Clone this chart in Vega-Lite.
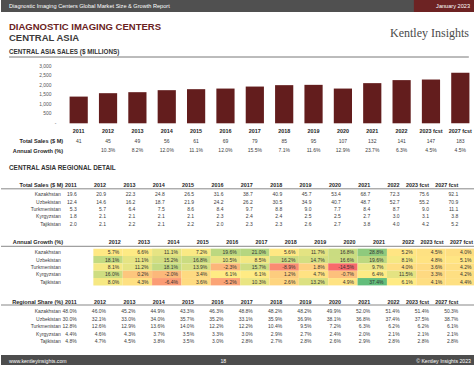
{
  "$schema": "https://vega.github.io/schema/vega-lite/v6.json",
  "padding": 0,
  "autosize": {"type": "pad"},
  "background": "white",
  "spacing": 0,
  "bounds": "flush",
  "config": {
    "font": "Liberation Sans",
    "view": {"stroke": null},
    "locale": {"number": {"decimal": ".", "thousands": ",", "grouping": [3], "currency": ["$", ""], "minus": "-"}}
  },
  "datasets": {
    "sales": [
      {"year": "2011", "chart_value": 1410, "total_sales_m": 41, "growth": null},
      {"year": "2012", "chart_value": 1590, "total_sales_m": 45, "growth": 0.103},
      {"year": "2013", "chart_value": 1643, "total_sales_m": 49, "growth": 0.082},
      {"year": "2014", "chart_value": 1749, "total_sales_m": 56, "growth": 0.120},
      {"year": "2015", "chart_value": 1802, "total_sales_m": 61, "growth": 0.111},
      {"year": "2016", "chart_value": 1834, "total_sales_m": 69, "growth": 0.120},
      {"year": "2017", "chart_value": 1940, "total_sales_m": 79, "growth": 0.155},
      {"year": "2018", "chart_value": 2014, "total_sales_m": 85, "growth": 0.071},
      {"year": "2019", "chart_value": 2030, "total_sales_m": 95, "growth": 0.116},
      {"year": "2020", "chart_value": 1834, "total_sales_m": 107, "growth": 0.129},
      {"year": "2021", "chart_value": 2120, "total_sales_m": 132, "growth": 0.237},
      {"year": "2022", "chart_value": 2280, "total_sales_m": 141, "growth": 0.063},
      {"year": "2023 fcst", "chart_value": 2311, "total_sales_m": 147, "growth": 0.045},
      {"year": "2027 fcst", "chart_value": 2666, "total_sales_m": 183, "growth": 0.045}
    ],
    "regional": [
      {"country": "Kazakhstan", "year": "2011", "sales": 19.6, "growth": null, "share": 0.480},
      {"country": "Kazakhstan", "year": "2012", "sales": 20.9, "growth": 0.057, "share": 0.460},
      {"country": "Kazakhstan", "year": "2013", "sales": 22.3, "growth": 0.066, "share": 0.452},
      {"country": "Kazakhstan", "year": "2014", "sales": 24.8, "growth": 0.111, "share": 0.449},
      {"country": "Kazakhstan", "year": "2015", "sales": 26.5, "growth": 0.072, "share": 0.433},
      {"country": "Kazakhstan", "year": "2016", "sales": 31.6, "growth": 0.196, "share": 0.463},
      {"country": "Kazakhstan", "year": "2017", "sales": 38.7, "growth": 0.210, "share": 0.488},
      {"country": "Kazakhstan", "year": "2018", "sales": 40.9, "growth": 0.056, "share": 0.482},
      {"country": "Kazakhstan", "year": "2019", "sales": 45.7, "growth": 0.117, "share": 0.482},
      {"country": "Kazakhstan", "year": "2020", "sales": 53.4, "growth": 0.168, "share": 0.499},
      {"country": "Kazakhstan", "year": "2021", "sales": 68.7, "growth": 0.288, "share": 0.520},
      {"country": "Kazakhstan", "year": "2022", "sales": 72.3, "growth": 0.052, "share": 0.514},
      {"country": "Kazakhstan", "year": "2023 fcst", "sales": 75.6, "growth": 0.045, "share": 0.514},
      {"country": "Kazakhstan", "year": "2027 fcst", "sales": 92.1, "growth": 0.040, "share": 0.503},
      {"country": "Uzbekistan", "year": "2011", "sales": 12.4, "growth": null, "share": 0.300},
      {"country": "Uzbekistan", "year": "2012", "sales": 14.6, "growth": 0.181, "share": 0.321},
      {"country": "Uzbekistan", "year": "2013", "sales": 16.2, "growth": 0.111, "share": 0.330},
      {"country": "Uzbekistan", "year": "2014", "sales": 18.7, "growth": 0.152, "share": 0.340},
      {"country": "Uzbekistan", "year": "2015", "sales": 21.9, "growth": 0.168, "share": 0.357},
      {"country": "Uzbekistan", "year": "2016", "sales": 24.2, "growth": 0.105, "share": 0.352},
      {"country": "Uzbekistan", "year": "2017", "sales": 26.2, "growth": 0.085, "share": 0.331},
      {"country": "Uzbekistan", "year": "2018", "sales": 30.5, "growth": 0.162, "share": 0.359},
      {"country": "Uzbekistan", "year": "2019", "sales": 34.9, "growth": 0.147, "share": 0.369},
      {"country": "Uzbekistan", "year": "2020", "sales": 40.7, "growth": 0.166, "share": 0.381},
      {"country": "Uzbekistan", "year": "2021", "sales": 48.7, "growth": 0.196, "share": 0.368},
      {"country": "Uzbekistan", "year": "2022", "sales": 52.7, "growth": 0.081, "share": 0.374},
      {"country": "Uzbekistan", "year": "2023 fcst", "sales": 55.2, "growth": 0.048, "share": 0.375},
      {"country": "Uzbekistan", "year": "2027 fcst", "sales": 70.9, "growth": 0.051, "share": 0.387},
      {"country": "Turkmenistan", "year": "2011", "sales": 5.3, "growth": null, "share": 0.128},
      {"country": "Turkmenistan", "year": "2012", "sales": 5.7, "growth": 0.081, "share": 0.126},
      {"country": "Turkmenistan", "year": "2013", "sales": 6.4, "growth": 0.112, "share": 0.129},
      {"country": "Turkmenistan", "year": "2014", "sales": 7.5, "growth": 0.181, "share": 0.136},
      {"country": "Turkmenistan", "year": "2015", "sales": 8.6, "growth": 0.139, "share": 0.140},
      {"country": "Turkmenistan", "year": "2016", "sales": 8.4, "growth": -0.023, "share": 0.122},
      {"country": "Turkmenistan", "year": "2017", "sales": 9.7, "growth": 0.157, "share": 0.122},
      {"country": "Turkmenistan", "year": "2018", "sales": 8.8, "growth": -0.089, "share": 0.104},
      {"country": "Turkmenistan", "year": "2019", "sales": 9.0, "growth": 0.018, "share": 0.095},
      {"country": "Turkmenistan", "year": "2020", "sales": 7.7, "growth": -0.145, "share": 0.072},
      {"country": "Turkmenistan", "year": "2021", "sales": 8.4, "growth": 0.097, "share": 0.063},
      {"country": "Turkmenistan", "year": "2022", "sales": 8.7, "growth": 0.040, "share": 0.062},
      {"country": "Turkmenistan", "year": "2023 fcst", "sales": 9.0, "growth": 0.036, "share": 0.062},
      {"country": "Turkmenistan", "year": "2027 fcst", "sales": 11.1, "growth": 0.042, "share": 0.061},
      {"country": "Kyrgyzstan", "year": "2011", "sales": 1.8, "growth": null, "share": 0.044},
      {"country": "Kyrgyzstan", "year": "2012", "sales": 2.1, "growth": 0.160, "share": 0.046},
      {"country": "Kyrgyzstan", "year": "2013", "sales": 2.1, "growth": 0.002, "share": 0.043},
      {"country": "Kyrgyzstan", "year": "2014", "sales": 2.1, "growth": -0.020, "share": 0.037},
      {"country": "Kyrgyzstan", "year": "2015", "sales": 2.1, "growth": 0.034, "share": 0.035},
      {"country": "Kyrgyzstan", "year": "2016", "sales": 2.3, "growth": 0.061, "share": 0.033},
      {"country": "Kyrgyzstan", "year": "2017", "sales": 2.4, "growth": 0.061, "share": 0.030},
      {"country": "Kyrgyzstan", "year": "2018", "sales": 2.4, "growth": 0.012, "share": 0.029},
      {"country": "Kyrgyzstan", "year": "2019", "sales": 2.5, "growth": 0.047, "share": 0.027},
      {"country": "Kyrgyzstan", "year": "2020", "sales": 2.5, "growth": -0.007, "share": 0.024},
      {"country": "Kyrgyzstan", "year": "2021", "sales": 2.7, "growth": 0.064, "share": 0.020},
      {"country": "Kyrgyzstan", "year": "2022", "sales": 3.0, "growth": 0.115, "share": 0.021},
      {"country": "Kyrgyzstan", "year": "2023 fcst", "sales": 3.1, "growth": 0.033, "share": 0.021},
      {"country": "Kyrgyzstan", "year": "2027 fcst", "sales": 3.8, "growth": 0.042, "share": 0.021},
      {"country": "Tajikistan", "year": "2011", "sales": 2.0, "growth": null, "share": 0.048},
      {"country": "Tajikistan", "year": "2012", "sales": 2.1, "growth": 0.080, "share": 0.047},
      {"country": "Tajikistan", "year": "2013", "sales": 2.2, "growth": 0.043, "share": 0.045},
      {"country": "Tajikistan", "year": "2014", "sales": 2.1, "growth": -0.064, "share": 0.038},
      {"country": "Tajikistan", "year": "2015", "sales": 2.2, "growth": 0.036, "share": 0.035},
      {"country": "Tajikistan", "year": "2016", "sales": 2.0, "growth": -0.052, "share": 0.030},
      {"country": "Tajikistan", "year": "2017", "sales": 2.3, "growth": 0.103, "share": 0.028},
      {"country": "Tajikistan", "year": "2018", "sales": 2.3, "growth": 0.026, "share": 0.027},
      {"country": "Tajikistan", "year": "2019", "sales": 2.6, "growth": 0.132, "share": 0.028},
      {"country": "Tajikistan", "year": "2020", "sales": 2.7, "growth": 0.049, "share": 0.026},
      {"country": "Tajikistan", "year": "2021", "sales": 3.8, "growth": 0.374, "share": 0.029},
      {"country": "Tajikistan", "year": "2022", "sales": 4.0, "growth": 0.061, "share": 0.028},
      {"country": "Tajikistan", "year": "2023 fcst", "sales": 4.2, "growth": 0.041, "share": 0.028},
      {"country": "Tajikistan", "year": "2027 fcst", "sales": 5.2, "growth": 0.044, "share": 0.028}
    ],
    "page": [
      {"report": "Diagnostic Imaging Centers Global Market Size & Growth Report", "date": "January 2023", "brand": "Kentley Insights", "site": "www.kentleyinsights.com", "page_no": "18", "copyright": "© Kentley Insights 2023"}
    ]
  },
  "vconcat": [
    {
      "width": 474, "height": 12,
      "view": {"fill": "#505050", "stroke": null},
      "data": {"name": "page"},
      "layer": [
        {
          "mark": {"type": "rect", "color": "#6d2323"},
          "encoding": {
            "x": {"datum": 0.871, "type": "quantitative", "scale": {"domain": [0, 1]}, "axis": null},
            "x2": {"datum": 1}
          }
        },
        {
          "mark": {"type": "text", "align": "left", "baseline": "middle", "dx": 8, "color": "white", "fontSize": 5.6},
          "encoding": {
            "x": {"datum": 0, "type": "quantitative"},
            "text": {"field": "report"}
          }
        },
        {
          "mark": {"type": "text", "align": "right", "baseline": "middle", "dx": -5, "color": "white", "fontSize": 5.6},
          "encoding": {
            "x": {"datum": 1, "type": "quantitative"},
            "text": {"field": "date"}
          }
        }
      ]
    },
    {
      "width": 474, "height": 30,
      "data": {"name": "page"},
      "mark": {"type": "text", "align": "right", "baseline": "middle", "dx": -6, "dy": 5.5, "font": "Liberation Serif", "fontSize": 12, "color": "#4a4a4a"},
      "encoding": {
        "x": {"datum": 1, "type": "quantitative", "scale": {"domain": [0, 1]}, "axis": null},
        "text": {"field": "brand"}
      }
    },
    {
      "width": 474, "height": 15,
      "title": {"text": "DIAGNOSTIC IMAGING CENTERS", "subtitle": "CENTRAL ASIA", "anchor": "start", "frame": "group", "dx": 8, "offset": 0, "fontSize": 9.5, "fontWeight": "bold", "color": "#6a2222", "subtitleFont": "Liberation Sans", "subtitleFontSize": 9.5, "subtitleFontWeight": "bold", "subtitleColor": "#3c3c3c", "subtitlePadding": 1.5},
      "data": {"values": [{"line": "section rule"}]},
      "mark": {"type": "rule", "color": "#555555", "strokeWidth": 0.8},
      "encoding": {
        "x": {"datum": 0.017, "type": "quantitative", "scale": {"domain": [0, 1]}, "axis": null},
        "x2": {"datum": 0.987},
        "y": {"datum": 0, "type": "quantitative", "scale": {"domain": [0, 1]}, "axis": null}
      }
    },
    {
      "width": 474, "height": 66.3,
      "title": {"text": "CENTRAL ASIA SALES ($ MILLIONS)", "anchor": "start", "frame": "group", "dx": 8, "offset": 1.5, "fontSize": 6.3, "fontWeight": "bold", "color": "#333333"},
      "data": {"name": "sales"},
      "mark": {"type": "bar", "color": "#631d1d"},
      "encoding": {
        "x": {"field": "year", "type": "nominal", "sort": null, "scale": {"range": [63, 474], "paddingInner": 0.38, "paddingOuter": 0.19},
              "axis": {"orient": "bottom", "title": null, "domain": false, "ticks": false, "labelAngle": 0, "labelFontWeight": "bold", "labelFontSize": 5.4, "labelColor": "#262626", "labelPadding": 5.5, "labelOverlap": false}},
        "y": {"field": "chart_value", "type": "quantitative", "scale": {"domain": [0, 3500], "nice": false},
              "axis": {"values": [0, 500, 1000, 1500, 2000, 2500, 3000], "format": ",.0f", "labelExpr": "datum.value === 0 ? '-' : datum.label", "title": null, "domain": false, "ticks": false, "grid": false, "offset": -52, "labelPadding": {"condition": {"test": "datum.value === 0", "value": -3}, "value": 2}, "labelFontSize": 4.9, "labelColor": "#555555", "labelOverlap": false}}
      }
    },
    {
      "width": 474, "height": 48.7,
      "data": {"name": "sales"},
      "layer": [
        {
          "mark": {"type": "text", "align": "center", "baseline": "middle", "fontSize": 5, "color": "#404040"},
          "encoding": {
            "x": {"field": "year", "type": "nominal", "sort": null, "scale": {"range": [63, 474], "paddingInner": 0, "paddingOuter": 0}, "axis": null},
            "y": {"datum": "Total Sales ($ M)", "type": "nominal", "scale": {"domain": ["Total Sales ($ M)", "Annual Growth (%)"], "range": [12.2, 31], "paddingInner": 0, "paddingOuter": 0},
                  "axis": {"title": null, "domain": false, "ticks": false, "grid": false, "offset": -63, "labelPadding": 1.3, "labelFontWeight": "bold", "labelFontSize": 5.6, "labelColor": "#262626", "labelOverlap": false}},
            "text": {"field": "total_sales_m", "format": ",.0f"}
          }
        },
        {
          "transform": [{"filter": "isValid(datum.growth)"}],
          "mark": {"type": "text", "align": "center", "baseline": "middle", "fontSize": 5, "color": "#404040"},
          "encoding": {
            "x": {"field": "year", "type": "nominal", "sort": null},
            "y": {"datum": "Annual Growth (%)", "type": "nominal"},
            "text": {"field": "growth", "format": ".1%"}
          }
        }
      ]
    },
    {
      "width": 474, "height": 57,
      "title": {"text": "CENTRAL ASIA REGIONAL DETAIL", "anchor": "start", "frame": "group", "dx": 8, "offset": 2, "fontSize": 6.4, "fontWeight": "bold", "color": "#333333"},
      "layer": [
        {
          "data": {"name": "regional"},
          "mark": {"type": "text", "align": "right", "baseline": "middle", "dx": -2, "fontSize": 5, "color": "#404040"},
          "encoding": {
            "x": {"field": "year", "type": "nominal", "sort": null, "bandPosition": 1, "scale": {"domain": ["2011", "2012", "2013", "2014", "2015", "2016", "2017", "2018", "2019", "2020", "2021", "2022", "2023 fcst", "2027 fcst"], "range": [63, 474], "paddingInner": 0, "paddingOuter": 0}, "axis": null},
            "y": {"field": "country", "type": "nominal", "scale": {"domain": ["header", "Kazakhstan", "Uzbekistan", "Turkmenistan", "Kyrgyzstan", "Tajikistan"], "range": [10.3, 54.4], "paddingInner": 0, "paddingOuter": 0},
                  "axis": {"title": null, "domain": false, "ticks": false, "grid": false, "offset": -63, "labelOverlap": false,
                           "labelExpr": "datum.value === 'header' ? 'Total Sales ($ M)' : datum.label",
                           "labelFontWeight": {"condition": {"test": "datum.value === 'header'", "value": "bold"}, "value": "normal"},
                           "labelFontSize": {"condition": {"test": "datum.value === 'header'", "value": 5.6}, "value": 5},
                           "labelColor": {"condition": {"test": "datum.value === 'header'", "value": "#262626"}, "value": "#404040"},
                           "labelPadding": {"condition": {"test": "datum.value === 'header'", "value": 1.3}, "value": 3.7},
                           "labelOffset": {"condition": {"test": "datum.value === 'header'", "value": -2}, "value": 0}}},
            "text": {"field": "sales", "format": ".1f"}
          }
        },
        {
          "data": {"name": "sales"},
          "mark": {"type": "text", "align": "right", "baseline": "middle", "dx": -2, "dy": -2, "fontSize": 5.4, "fontWeight": "bold", "color": "#262626"},
          "encoding": {
            "x": {"field": "year", "type": "nominal", "sort": null, "bandPosition": 1},
            "y": {"datum": "header", "type": "nominal"},
            "text": {"field": "year"}
          }
        },
        {
          "data": {"values": [{"row": "header"}]},
          "mark": {"type": "rule", "color": "#555555", "strokeWidth": 0.7},
          "encoding": {"y": {"field": "row", "type": "nominal", "bandPosition": 0.75}}
        }
      ]
    },
    {
      "width": 474, "height": 61,
      "layer": [
        {
          "data": {"name": "regional"},
          "transform": [{"filter": "isValid(datum.growth)"}],
          "mark": {"type": "rect"},
          "encoding": {
            "x": {"field": "year", "type": "nominal", "sort": null, "scale": {"domain": ["2011", "2012", "2013", "2014", "2015", "2016", "2017", "2018", "2019", "2020", "2021", "2022", "2023 fcst", "2027 fcst"], "range": [63, 474], "paddingInner": 0, "paddingOuter": 0}, "axis": null},
            "y": {"field": "country", "type": "nominal", "scale": {"domain": ["header", "Kazakhstan", "Uzbekistan", "Turkmenistan", "Kyrgyzstan", "Tajikistan"], "range": [11.3, 55.4], "paddingInner": 0, "paddingOuter": 0},
                  "axis": {"title": null, "domain": false, "ticks": false, "grid": false, "offset": -63, "labelOverlap": false,
                           "labelExpr": "datum.value === 'header' ? 'Annual Growth (%)' : datum.label",
                           "labelFontWeight": {"condition": {"test": "datum.value === 'header'", "value": "bold"}, "value": "normal"},
                           "labelFontSize": {"condition": {"test": "datum.value === 'header'", "value": 5.6}, "value": 5},
                           "labelColor": {"condition": {"test": "datum.value === 'header'", "value": "#262626"}, "value": "#404040"},
                           "labelPadding": {"condition": {"test": "datum.value === 'header'", "value": 1.3}, "value": 3.7},
                           "labelOffset": {"condition": {"test": "datum.value === 'header'", "value": -2.5}, "value": 0}}},
            "color": {"field": "growth", "type": "quantitative", "scale": {"domain": [-0.145, 0.061, 0.374], "range": ["#f8696b", "#ffeb84", "#63be7b"], "interpolate": "rgb"}, "legend": null}
          }
        },
        {
          "data": {"name": "regional"},
          "transform": [{"filter": "isValid(datum.growth)"}],
          "mark": {"type": "text", "align": "right", "baseline": "middle", "dx": -3.5, "fontSize": 5, "color": "#333333"},
          "encoding": {
            "x": {"field": "year", "type": "nominal", "sort": null, "bandPosition": 1},
            "y": {"field": "country", "type": "nominal"},
            "text": {"field": "growth", "format": ".1%"}
          }
        },
        {
          "data": {"name": "sales"},
          "transform": [{"filter": "datum.year !== '2011'"}],
          "mark": {"type": "text", "align": "right", "baseline": "middle", "dx": -2, "dy": -2.5, "fontSize": 5.4, "fontWeight": "bold", "color": "#262626"},
          "encoding": {
            "x": {"field": "year", "type": "nominal", "sort": null, "bandPosition": 1},
            "y": {"datum": "header", "type": "nominal"},
            "text": {"field": "year"}
          }
        },
        {
          "data": {"values": [{"row": "header"}]},
          "mark": {"type": "rule", "color": "#555555", "strokeWidth": 0.7},
          "encoding": {"y": {"field": "row", "type": "nominal", "bandPosition": 0.68}}
        }
      ]
    },
    {
      "width": 474, "height": 64,
      "layer": [
        {
          "data": {"name": "regional"},
          "mark": {"type": "text", "align": "right", "baseline": "middle", "dx": -2, "fontSize": 5, "color": "#404040"},
          "encoding": {
            "x": {"field": "year", "type": "nominal", "sort": null, "bandPosition": 1, "scale": {"domain": ["2011", "2012", "2013", "2014", "2015", "2016", "2017", "2018", "2019", "2020", "2021", "2022", "2023 fcst", "2027 fcst"], "range": [63, 474], "paddingInner": 0, "paddingOuter": 0}, "axis": null},
            "y": {"field": "country", "type": "nominal", "scale": {"domain": ["header", "Kazakhstan", "Uzbekistan", "Turkmenistan", "Kyrgyzstan", "Tajikistan"], "range": [8.75, 53.75], "paddingInner": 0, "paddingOuter": 0},
                  "axis": {"title": null, "domain": false, "ticks": false, "grid": false, "offset": -63, "labelOverlap": false,
                           "labelExpr": "datum.value === 'header' ? 'Regional Share (%)' : datum.label",
                           "labelFontWeight": {"condition": {"test": "datum.value === 'header'", "value": "bold"}, "value": "normal"},
                           "labelFontSize": {"condition": {"test": "datum.value === 'header'", "value": 5.6}, "value": 5},
                           "labelColor": {"condition": {"test": "datum.value === 'header'", "value": "#262626"}, "value": "#404040"},
                           "labelPadding": {"condition": {"test": "datum.value === 'header'", "value": 1.3}, "value": 3.7},
                           "labelOffset": {"condition": {"test": "datum.value === 'header'", "value": -1.8}, "value": 0}}},
            "text": {"field": "share", "format": ".1%"}
          }
        },
        {
          "data": {"name": "sales"},
          "mark": {"type": "text", "align": "right", "baseline": "middle", "dx": -2, "dy": -1.8, "fontSize": 5.4, "fontWeight": "bold", "color": "#262626"},
          "encoding": {
            "x": {"field": "year", "type": "nominal", "sort": null, "bandPosition": 1},
            "y": {"datum": "header", "type": "nominal"},
            "text": {"field": "year"}
          }
        },
        {
          "data": {"values": [{"row": "header"}]},
          "mark": {"type": "rule", "color": "#555555", "strokeWidth": 0.7},
          "encoding": {"y": {"field": "row", "type": "nominal", "bandPosition": 0.7}}
        }
      ]
    },
    {
      "width": 474, "height": 11,
      "view": {"fill": "#4d4d4d", "stroke": null},
      "data": {"name": "page"},
      "layer": [
        {
          "mark": {"type": "text", "align": "left", "baseline": "middle", "dx": 8, "color": "white", "fontSize": 5.2},
          "encoding": {
            "x": {"datum": 0, "type": "quantitative", "scale": {"domain": [0, 1]}, "axis": null},
            "text": {"field": "site"}
          }
        },
        {
          "mark": {"type": "text", "align": "center", "baseline": "middle", "color": "white", "fontSize": 5.2},
          "encoding": {
            "x": {"datum": 0.469, "type": "quantitative"},
            "text": {"field": "page_no"}
          }
        },
        {
          "mark": {"type": "text", "align": "right", "baseline": "middle", "dx": -4, "color": "white", "fontSize": 5.2},
          "encoding": {
            "x": {"datum": 1, "type": "quantitative"},
            "text": {"field": "copyright"}
          }
        }
      ]
    }
  ]
}
